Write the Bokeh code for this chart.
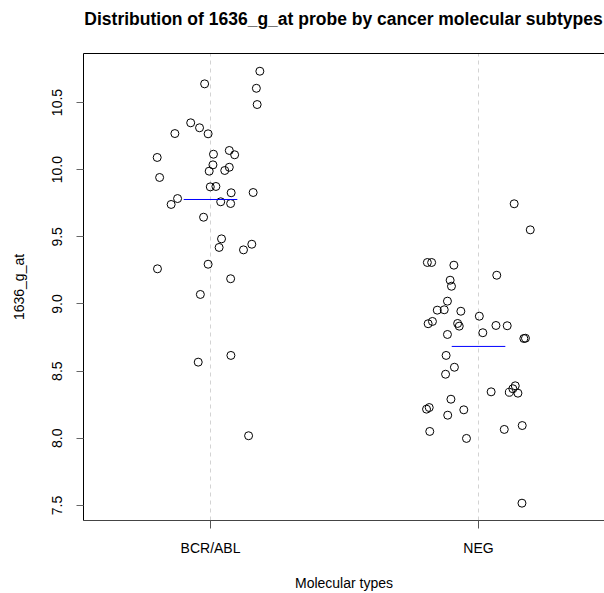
from bokeh.plotting import figure
from bokeh.models import Range1d, FixedTicker, PrintfTickFormatter, ColumnDataSource, LinearAxis, Div
from bokeh.layouts import column
from bokeh.embed import file_html
from bokeh.resources import INLINE

categories = ["BCR/ABL", "NEG"]

bcr_values = [10.733, 10.639, 10.606, 10.485, 10.349, 10.312, 10.267, 10.269, 10.143, 10.111,
              10.115, 10.091, 10.036, 10.018, 9.994, 9.989, 9.942, 9.872, 9.875, 9.828,
              9.830, 9.785, 9.741, 9.761, 9.748, 9.646, 9.485, 9.421, 9.445, 9.403,
              9.262, 9.296, 9.188, 9.071, 8.617, 8.567, 8.019]
bcr_jitter = [0.184, -0.022, 0.171, 0.174, -0.074, -0.041, -0.009, -0.133, 0.070, 0.090,
              0.011, -0.199, 0.009, 0.070, 0.053, -0.005, -0.190, -0.001, 0.020, 0.077,
              0.159, -0.123, -0.147, 0.038, 0.075, -0.026, 0.041, 0.032, 0.154, 0.123,
              -0.198, -0.009, 0.075, -0.038, 0.076, -0.046, 0.142]

neg_values = [9.746, 9.552, 9.309, 9.309, 9.289, 9.214, 9.177, 9.132, 9.021, 8.954,
              8.957, 8.946, 8.909, 8.853, 8.870, 8.855, 8.835, 8.840, 8.838, 8.773,
              8.786, 8.743, 8.745, 8.617, 8.529, 8.477, 8.346, 8.391, 8.369, 8.343,
              8.336, 8.291, 8.217, 8.229, 8.212, 8.172, 8.095, 8.066, 8.051, 7.999,
              7.517]
neg_jitter = [0.133, 0.193, -0.191, -0.175, -0.092, 0.068, -0.106, -0.101, -0.116, -0.154,
              -0.128, -0.066, 0.003, -0.188, -0.172, -0.078, -0.072, 0.065, 0.107, -0.116,
              0.016, 0.169, 0.175, -0.121, -0.090, -0.123, 0.047, 0.137, 0.128, 0.115,
              0.147, -0.103, -0.194, -0.184, -0.055, -0.115, 0.163, 0.096, -0.182, -0.045,
              0.162]

group_centers = [9.778, 8.684]
y_ticks = [7.5, 8.0, 8.5, 9.0, 9.5, 10.0, 10.5]
title_text = "Distribution of 1636_g_at probe by cancer molecular subtypes"

FONT = "Liberation Sans"
TITLE_H = 38

title_div = Div(
    text=('<div style="width:521px;margin-left:83px;text-align:center;'
          'font-family:\'Liberation Sans\';font-weight:bold;font-size:17.5px;'
          'line-height:20px;padding-top:9px;color:black;white-space:nowrap">'
          + title_text + '</div>'),
    width=604, height=TITLE_H, margin=0)

p = figure(width=604, height=593 - TITLE_H, output_backend="svg", toolbar_location=None,
           x_range=Range1d(0.526, 2.470), y_range=Range1d(7.388, 10.865),
           min_border_left=83, min_border_right=0, min_border_top=53 - TITLE_H,
           min_border_bottom=73, margin=0)
p.outline_line_color = None
p.background_fill_color = "white"
p.border_fill_color = "white"

# top border line of the frame
top_axis = LinearAxis(ticker=FixedTicker(ticks=[]), major_label_text_color=None,
                      axis_line_color="black", major_tick_line_color=None,
                      minor_tick_line_color=None)
p.add_layout(top_axis, "above")

# axes
cat_pos = [i + 1 for i in range(len(categories))]
xa = p.below[0]
xa.ticker = FixedTicker(ticks=cat_pos)
xa.major_label_overrides = {c: lab for c, lab in zip(cat_pos, categories)}
xa.minor_tick_line_color = None
xa.major_tick_out = 8
xa.major_tick_in = 0
xa.major_tick_line_color = "#555555"
xa.axis_line_color = "#444444"
xa.major_label_standoff = 11
xa.major_label_text_font = FONT
xa.major_label_text_font_size = "14px"
xa.major_label_text_color = "black"
xa.axis_label = "Molecular types"
xa.axis_label_text_font = FONT
xa.axis_label_text_font_size = "14px"
xa.axis_label_text_font_style = "normal"
xa.axis_label_text_color = "black"
xa.axis_label_standoff = 16

ya = p.left[0]
ya.ticker = FixedTicker(ticks=y_ticks)
ya.formatter = PrintfTickFormatter(format="%.1f")
ya.major_label_orientation = "vertical"
ya.minor_tick_line_color = None
ya.major_tick_out = 7
ya.major_tick_in = 0
ya.major_tick_line_color = "#666666"
ya.axis_line_color = "black"
ya.major_label_standoff = 14
ya.major_label_text_font = FONT
ya.major_label_text_font_size = "14px"
ya.major_label_text_color = "black"
ya.axis_label = "1636_g_at"
ya.axis_label_text_font = FONT
ya.axis_label_text_font_size = "14px"
ya.axis_label_text_font_style = "normal"
ya.axis_label_text_color = "black"
ya.axis_label_standoff = 23

p.ygrid.grid_line_color = None
p.xgrid.ticker = FixedTicker(ticks=cat_pos)
p.xgrid.grid_line_color = "#d3d3d3"
p.xgrid.grid_line_dash = "4 4"
p.xgrid.grid_line_width = 1

# points
groups = [(bcr_values, bcr_jitter), (neg_values, neg_jitter)]
for pos, (vals, jit) in zip(cat_pos, groups):
    src = ColumnDataSource(dict(x=[pos + j for j in jit], y=vals))
    p.scatter("x", "y", source=src, size=8, fill_color=None, line_color="black", line_width=1)

# group center lines
half = 0.1
for pos, c in zip(cat_pos, group_centers):
    p.segment(x0=[pos - half], x1=[pos + half], y0=[c], y1=[c],
              line_color="#0000ff", line_width=1)

layout = column(title_div, p, spacing=0)
open("out.html", "w").write(file_html(layout, INLINE))
